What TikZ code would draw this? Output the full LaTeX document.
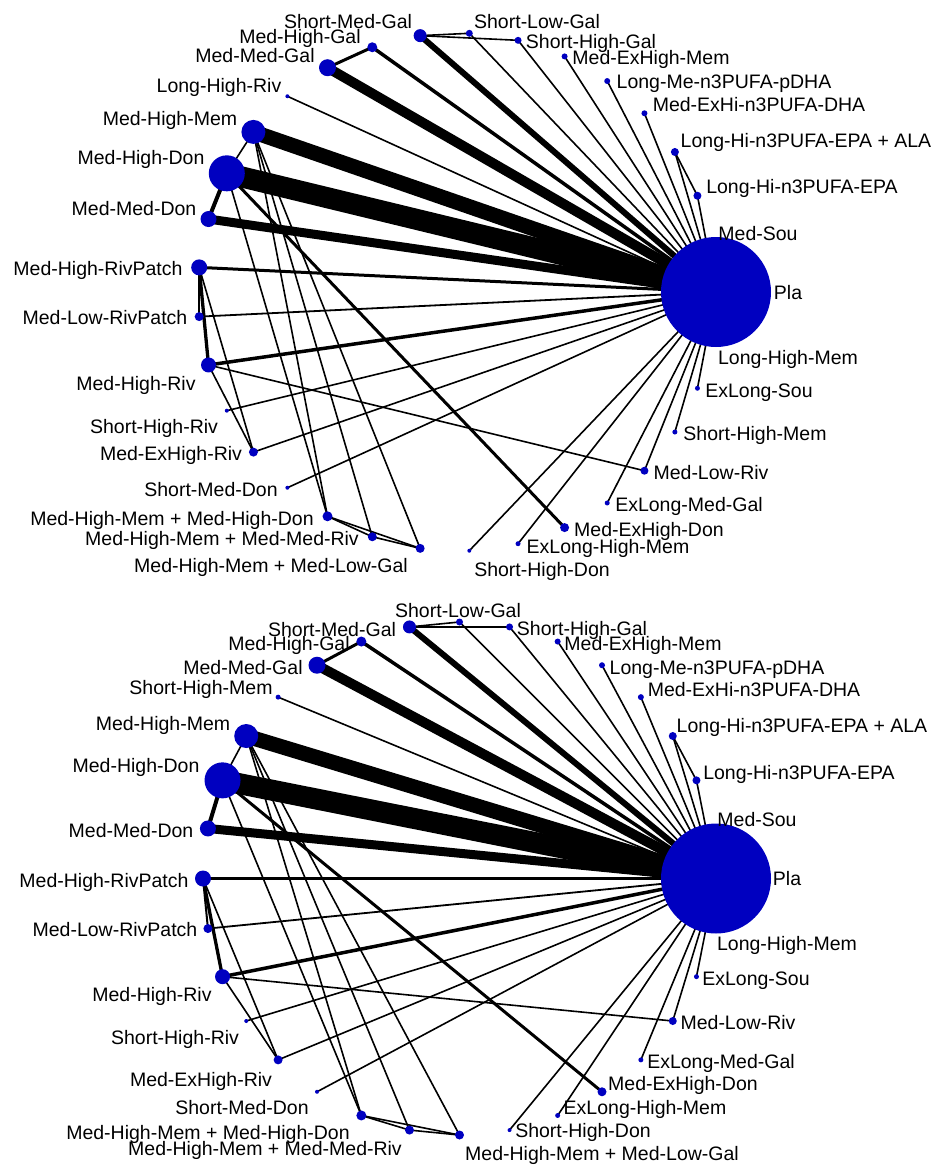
\documentclass[tikz,border=0pt]{standalone}
\usepackage{fontspec}
\setmainfont{Liberation Sans}
\definecolor{nodeblue}{RGB}{0,0,192}
\pgfdeclarelayer{bg}
\pgfsetlayers{bg,main}
\newcommand\mkA[3]{\node[dot,minimum size=#3pt] (a#1) at ({457+259*cos(#2*360/33)},{292-259*sin(#2*360/33)}) {};}
\newcommand\mkB[3]{\node[dot,minimum size=#3pt] (b#1) at ({459.5+256.5*cos(#2*11.25)},{878.5-256.5*sin(#2*11.25)}) {};}
\newcommand\lab[4]{\node[lbl] (#1) at (#2,{#3+7}) {#4};}
\newcommand\netedges[1]{%
  \foreach \n/\w in {sou/1.6,epa/1.6,epaala/1.6,dha/1.6,pdha/1.6,mehm/1.6,shg/1.6,slg/1.6,smg/6,mhg/3.5,mmg/10,shm/1.6,mhm/15,mhd/21,mmd/9,mhrp/3,mlrp/1.8,mhr/3.5,shr/1.6,mehr/1.6,smd/1.6,shd/1.6,elhm/1.6,elmg/1.6,mlr/1.6,els/1.6,lhm/1.6}
    {\draw[line width=\w pt] (#1pla.center) -- (#1\n.center);}
  \foreach \p/\q/\w in {epaala/epa/1.6,smg/slg/1.6,smg/shg/1.6,mmg/mhg/3,mhm/mhd/1.6,mhd/mmd/4,mhd/mehd/3,mhd/cmhd/1.6,mhm/cmhd/1.6,mhm/cmmr/1.6,mhm/cmlg/1.6,cmhd/cmmr/1.6,cmhd/cmlg/1.6,cmmr/cmlg/1.6,mhrp/mlrp/2,mhrp/mhr/3.3,mhrp/mehr/1.6,mhr/mehr/1.6,mhr/mlr/1.6}
    {\draw[line width=\w pt] (#1\p.center) -- (#1\q.center);}
}
\begin{document}
\begin{tikzpicture}[x=1pt,y=-1pt,
  dot/.style={circle,fill=nodeblue,inner sep=0pt,draw=none},
  lbl/.style={anchor=base,inner sep=0pt,font=\fontsize{19.5}{22}\selectfont}]
\useasboundingbox (0,0) rectangle (936,1165);
% ---------- panel 1 nodes ----------
\mkA{sou}{1}{6}
\mkA{epa}{2}{8}
\mkA{epaala}{3}{8}
\mkA{dha}{4}{6}
\mkA{pdha}{5}{6}
\mkA{mehm}{6}{6}
\mkA{shg}{7}{7}
\mkA{slg}{8}{7}
\mkA{smg}{9}{13}
\mkA{mhg}{10}{10}
\mkA{mmg}{11}{17}
\mkA{lhr}{12}{4}
\mkA{mhm}{13}{24}
\mkA{mhd}{14}{36}
\mkA{mmd}{15}{16}
\mkA{mhrp}{16}{16}
\mkA{mlrp}{17}{9}
\mkA{mhr}{18}{15}
\mkA{shr}{19}{4}
\mkA{mehr}{20}{9}
\mkA{smd}{21}{4}
\mkA{cmhd}{22}{10}
\mkA{cmmr}{23}{9}
\mkA{cmlg}{24}{9}
\mkA{shd}{25}{4}
\mkA{elhm}{26}{5}
\mkA{mehd}{27}{9}
\mkA{elmg}{28}{5}
\mkA{mlr}{29}{8}
\mkA{shm}{30}{5}
\mkA{els}{31}{5}
\mkA{lhm}{32}{6}
\mkA{pla}{0}{110}
% ---------- panel 2 nodes ----------
\mkB{sou}{1}{6}
\mkB{epa}{2}{8}
\mkB{epaala}{3}{8}
\mkB{dha}{4}{6}
\mkB{pdha}{5}{6}
\mkB{mehm}{6}{6}
\mkB{shg}{7}{7}
\mkB{slg}{8}{7}
\mkB{smg}{9}{13}
\mkB{mhg}{10}{10}
\mkB{mmg}{11}{17}
\mkB{shm}{12}{5}
\mkB{mhm}{13}{24}
\mkB{mhd}{14}{36}
\mkB{mmd}{15}{16}
\mkB{mhrp}{16}{16}
\mkB{mlrp}{17}{9}
\mkB{mhr}{18}{15}
\mkB{shr}{19}{4}
\mkB{mehr}{20}{9}
\mkB{smd}{21}{4}
\mkB{cmhd}{22}{10}
\mkB{cmmr}{23}{9}
\mkB{cmlg}{24}{9}
\mkB{shd}{25}{4}
\mkB{elhm}{26}{5}
\mkB{mehd}{27}{9}
\mkB{elmg}{28}{5}
\mkB{mlr}{29}{8}
\mkB{els}{30}{5}
\mkB{lhm}{31}{6}
\mkB{pla}{0}{110}
% ---------- edges ----------
\begin{pgfonlayer}{bg}
\netedges{a}
\draw[line width=1.6pt] (apla.center) -- (alhr.center);
\netedges{b}
\end{pgfonlayer}
% ---------- panel 1 labels ----------
\lab{la-pla}{788}{292}{Pla}
\lab{la-sou}{758}{233}{Med-Sou}
\lab{la-epa}{802}{186}{Long-Hi-n3PUFA-EPA}
\lab{la-epaala}{806}{140}{Long-Hi-n3PUFA-EPA + ALA}
\lab{la-dha}{759}{104}{Med-ExHi-n3PUFA-DHA}
\lab{la-pdha}{724}{81}{Long-Me-n3PUFA-pDHA}
\lab{la-mehm}{651}{57}{Med-ExHigh-Mem}
\lab{la-shg}{591}{41}{Short-High-Gal}
\lab{la-slg}{537}{21}{Short-Low-Gal}
\lab{la-smg}{348}{21}{Short-Med-Gal}
\lab{la-mhg}{300}{36}{Med-High-Gal}
\lab{la-mmg}{255}{55}{Med-Med-Gal}
\lab{la-lhr}{219}{85}{Long-High-Riv}
\lab{la-mhm}{170}{118}{Med-High-Mem}
\lab{la-mhd}{141}{157}{Med-High-Don}
\lab{la-mmd}{134}{208}{Med-Med-Don}
\lab{la-mhrp}{98}{268}{Med-High-RivPatch}
\lab{la-mlrp}{105}{317}{Med-Low-RivPatch}
\lab{la-mhr}{136}{383}{Med-High-Riv}
\lab{la-shr}{154}{426}{Short-High-Riv}
\lab{la-mehr}{171}{453}{Med-ExHigh-Riv}
\lab{la-smd}{211}{489}{Short-Med-Don}
\lab{la-cmhd}{172}{518}{Med-High-Mem + Med-High-Don}
\lab{la-cmmr}{222}{538}{Med-High-Mem + Med-Med-Riv}
\lab{la-cmlg}{271}{565}{Med-High-Mem + Med-Low-Gal}
\lab{la-shd}{542}{569}{Short-High-Don}
\lab{la-elhm}{608}{546}{ExLong-High-Mem}
\lab{la-mehd}{649}{529}{Med-ExHigh-Don}
\lab{la-elmg}{689}{504}{ExLong-Med-Gal}
\lab{la-mlr}{711}{472}{Med-Low-Riv}
\lab{la-shm}{755}{433}{Short-High-Mem}
\lab{la-els}{759}{390}{ExLong-Sou}
\lab{la-lhm}{788}{357}{Long-High-Mem}
% ---------- panel 2 labels ----------
\lab{lb-pla}{787}{878}{Pla}
\lab{lb-sou}{757}{819}{Med-Sou}
\lab{lb-epa}{799}{772}{Long-Hi-n3PUFA-EPA}
\lab{lb-epaala}{802}{725}{Long-Hi-n3PUFA-EPA + ALA}
\lab{lb-dha}{754}{689}{Med-ExHi-n3PUFA-DHA}
\lab{lb-pdha}{717}{667}{Long-Me-n3PUFA-pDHA}
\lab{lb-mehm}{643}{643}{Med-ExHigh-Mem}
\lab{lb-shg}{582}{628}{Short-High-Gal}
\lab{lb-slg}{458}{610}{Short-Low-Gal}
\lab{lb-smg}{332}{629}{Short-Med-Gal}
\lab{lb-mhg}{289}{643}{Med-High-Gal}
\lab{lb-mmg}{243}{667}{Med-Med-Gal}
\lab{lb-shm}{201}{687}{Short-High-Mem}
\lab{lb-mhm}{163}{723}{Med-High-Mem}
\lab{lb-mhd}{136}{765}{Med-High-Don}
\lab{lb-mmd}{131}{830}{Med-Med-Don}
\lab{lb-mhrp}{104}{880}{Med-High-RivPatch}
\lab{lb-mlrp}{115}{929}{Med-Low-RivPatch}
\lab{lb-mhr}{152}{994}{Med-High-Riv}
\lab{lb-shr}{175}{1037}{Short-High-Riv}
\lab{lb-mehr}{201}{1079}{Med-ExHigh-Riv}
\lab{lb-smd}{242}{1107}{Short-Med-Don}
\lab{lb-cmhd}{208}{1132}{Med-High-Mem + Med-High-Don}
\lab{lb-cmmr}{265}{1148}{Med-High-Mem + Med-Med-Riv}
\lab{lb-cmlg}{602}{1153}{Med-High-Mem + Med-Low-Gal}
\lab{lb-shd}{583}{1130}{Short-High-Don}
\lab{lb-elhm}{645}{1107}{ExLong-High-Mem}
\lab{lb-mehd}{683}{1083}{Med-ExHigh-Don}
\lab{lb-elmg}{721}{1061}{ExLong-Med-Gal}
\lab{lb-mlr}{738}{1022}{Med-Low-Riv}
\lab{lb-els}{756}{978}{ExLong-Sou}
\lab{lb-lhm}{787}{943}{Long-High-Mem}
\end{tikzpicture}
\end{document}
